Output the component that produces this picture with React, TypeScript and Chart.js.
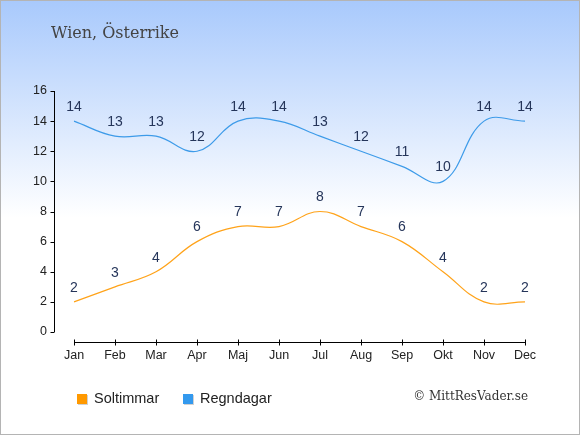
import { useEffect, useRef } from "react";
import { Chart, registerables } from "chart.js";

Chart.register(...registerables);

const months = ["Jan", "Feb", "Mar", "Apr", "Maj", "Jun", "Jul", "Aug", "Sep", "Okt", "Nov", "Dec"];
const soltimmar = [2, 3, 4, 6, 7, 7, 8, 7, 6, 4, 2, 2];
const regndagar = [14, 13, 13, 12, 14, 14, 13, 12, 11, 10, 14, 14];
const seriesLabels = ["Soltimmar", "Regndagar"];
const seriesColors = ["#ffa31a", "#3d9be9"];
const legendColors = ["#ff9900", "#3399ee"];
const yMin = 0;
const yMax = 16;
const yStep = 2;
const titleText = "Wien, Österrike";
const creditText = "© MittResVader.se";

const SANS = '"Liberation Sans", Arial, sans-serif';
const SERIF = '"DejaVu Serif", serif';

const decorPlugin = {
  id: "decor",
  beforeDraw(chart: any) {
    const { ctx, width, height } = chart;
    ctx.save();
    const g = ctx.createLinearGradient(0, 0, 0, height);
    g.addColorStop(0, "rgb(168,201,252)");
    g.addColorStop(0.5, "rgb(255,255,255)");
    g.addColorStop(1, "rgb(255,255,255)");
    ctx.fillStyle = g;
    ctx.fillRect(0, 0, width, height);
    ctx.strokeStyle = "#b4b4b4";
    ctx.lineWidth = 1;
    ctx.strokeRect(0.5, 0.5, width - 1, height - 1);
    ctx.restore();
  },
  afterDatasetsDraw(chart: any) {
    const { ctx } = chart;
    ctx.save();
    ctx.font = `14px ${SANS}`;
    ctx.fillStyle = "#25355a";
    ctx.textAlign = "center";
    ctx.textBaseline = "middle";
    chart.data.datasets.forEach((ds: any, i: number) => {
      const meta = chart.getDatasetMeta(i);
      meta.data.forEach((pt: any, j: number) => {
        ctx.fillText(String(ds.data[j]), pt.x, pt.y - 14);
      });
    });
    ctx.restore();
  },
  afterDraw(chart: any) {
    const { ctx, chartArea, scales } = chart;
    const xs = scales.x;
    const ys = scales.y;
    ctx.save();
    ctx.strokeStyle = "#000";
    ctx.lineWidth = 1;
    // y axis
    const ax = chartArea.left - 19.5;
    ctx.beginPath();
    ctx.moveTo(ax, ys.getPixelForValue(yMax));
    ctx.lineTo(ax, ys.getPixelForValue(yMin));
    ys.ticks.forEach((t: any) => {
      const py = Math.round(ys.getPixelForValue(t.value)) + 0.5;
      ctx.moveTo(ax - 4, py);
      ctx.lineTo(ax, py);
    });
    ctx.stroke();
    // x axis
    const ay = chartArea.bottom + 10.5;
    ctx.beginPath();
    ctx.moveTo(xs.getPixelForValue(0), ay);
    ctx.lineTo(xs.getPixelForValue(months.length - 1), ay);
    months.forEach((_, i) => {
      const px = Math.round(xs.getPixelForValue(i)) + 0.5;
      ctx.moveTo(px, ay - 3);
      ctx.lineTo(px, ay + 3);
    });
    ctx.stroke();

    // title
    ctx.font = `16px ${SERIF}`;
    ctx.fillStyle = "#444";
    ctx.textAlign = "left";
    ctx.textBaseline = "middle";
    ctx.fillText(titleText, 51, 34);

    // legend
    const lx = [77, 183];
    ctx.font = `14.5px ${SANS}`;
    seriesLabels.forEach((lab, i) => {
      ctx.fillStyle = "rgba(0,0,0,0.18)";
      ctx.fillRect(lx[i] + 1, 395, 10, 10);
      ctx.fillStyle = legendColors[i];
      ctx.fillRect(lx[i], 394, 10, 10);
      ctx.fillStyle = "#222";
      ctx.textAlign = "left";
      ctx.textBaseline = "middle";
      ctx.fillText(lab, lx[i] + 17, 399);
    });

    // credit
    ctx.font = `12px ${SERIF}`;
    ctx.fillStyle = "#333";
    ctx.textAlign = "right";
    ctx.fillText(creditText, 528, 397);
    ctx.restore();
  },
};

export default function App() {
  const ref = useRef<HTMLCanvasElement | null>(null);
  useEffect(() => {
    document.body.style.margin = "0";
    const canvas = ref.current;
    if (!canvas) return;
    const tickFont = { family: SANS, size: 12.5 };
    const chart = new Chart(canvas, {
      type: "line",
      data: {
        labels: months,
        datasets: [
          {
            label: seriesLabels[0],
            data: soltimmar,
            borderColor: seriesColors[0],
            borderWidth: 1.2,
            tension: 0.4,
            pointRadius: 0,
            fill: false,
          },
          {
            label: seriesLabels[1],
            data: regndagar,
            borderColor: seriesColors[1],
            borderWidth: 1.2,
            tension: 0.4,
            pointRadius: 0,
            fill: false,
          },
        ],
      },
      options: {
        animation: false,
        responsive: false,
        devicePixelRatio: 1,
        layout: { padding: { top: 91, right: 55, left: 0, bottom: 0 } },
        plugins: {
          legend: { display: false },
          title: { display: false },
          tooltip: { enabled: false },
        },
        scales: {
          x: {
            type: "category",
            offset: false,
            grid: { display: false, drawTicks: false },
            border: { display: false },
            ticks: { padding: 16, color: "#222", font: tickFont, maxRotation: 0, autoSkip: false },
            afterFit: (s: any) => {
              s.height = 103;
            },
          },
          y: {
            min: yMin,
            max: yMax,
            grid: { display: false, drawTicks: false },
            border: { display: false },
            ticks: { stepSize: yStep, padding: 27, color: "#222", font: tickFont },
            afterFit: (s: any) => {
              s.width = 74;
            },
          },
        },
      },
      plugins: [decorPlugin],
    });
    return () => chart.destroy();
  }, []);
  return <canvas ref={ref} width={580} height={435} style={{ display: "block" }} />;
}
